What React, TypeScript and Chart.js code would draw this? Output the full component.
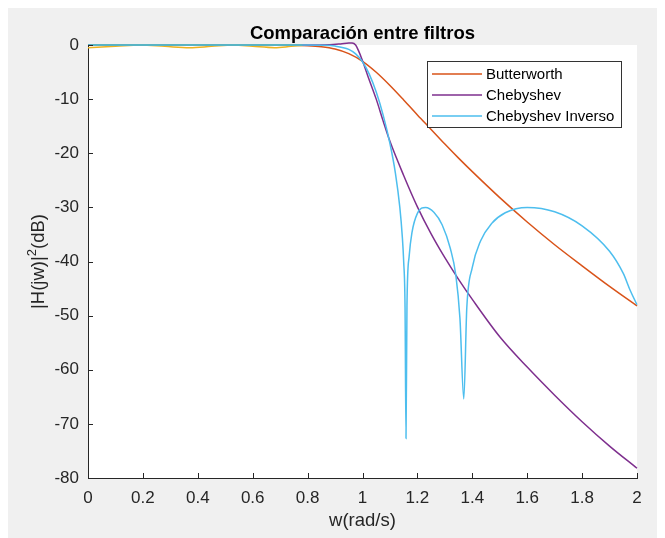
import React, { useEffect, useRef } from "react";
import { Chart, registerables } from "chart.js";

Chart.register(...registerables);

// ---------- data ----------
const chartTitle = "Comparación entre filtros";
const xAxisLabel = "w(rad/s)";
const legendLabels = ["Butterworth", "Chebyshev", "Chebyshev Inverso"];

const xTickLabels = ["0", "0.2", "0.4", "0.6", "0.8", "1", "1.2", "1.4", "1.6", "1.8", "2"];
const yTickLabels = ["-80", "-70", "-60", "-50", "-40", "-30", "-20", "-10", "0"];

const butterW = [0, 0.1, 0.2, 0.3, 0.4, 0.5, 0.6, 0.7, 0.8, 0.85, 0.9, 0.95, 1.0, 1.05, 1.1, 1.15, 1.2, 1.25, 1.3, 1.35, 1.4, 1.5, 1.6, 1.7, 1.8, 1.9, 2.0];
const butterDb = [0, 0, 0, 0, 0, 0, 0, -0.01, -0.12, -0.31, -0.74, -1.59, -3.01, -5.03, -7.47, -10.15, -12.93, -15.6, -18.3, -20.9, -23.4, -28.2, -32.7, -36.9, -40.8, -44.6, -48.2];

const chebW = [0, 0.2, 0.4, 0.6, 0.8, 0.88, 0.92, 0.95, 0.962, 0.975, 0.985, 1.0, 1.02, 1.05, 1.075, 1.1, 1.15, 1.2, 1.25, 1.3, 1.35, 1.4, 1.5, 1.6, 1.7, 1.8, 1.9, 2.0];
const chebDb = [0, 0, 0, 0, 0, 0.05, 0.2, 0.35, 0.37, 0, -1.0, -2.9, -5.8, -10.0, -14.0, -17.8, -24.1, -29.9, -34.9, -39.3, -43.3, -47.0, -53.9, -59.5, -64.7, -69.6, -74.1, -78.2];

const invW = [0, 0.2, 0.4, 0.6, 0.8, 0.85, 0.9, 0.95, 0.975, 1.0, 1.025, 1.05, 1.075, 1.1, 1.12, 1.136, 1.145, 1.15, 1.155, 1.1585, 1.162, 1.17, 1.18, 1.2, 1.23, 1.26, 1.29, 1.32, 1.34, 1.355, 1.369, 1.38, 1.4, 1.43, 1.47, 1.52, 1.6, 1.7, 1.8, 1.9, 1.95, 1.975, 2.0];
const invDb = [0, 0, 0, 0, -0.01, -0.05, -0.2, -0.82, -1.64, -3.09, -5.43, -8.7, -12.9, -18.2, -23.7, -30.0, -35.4, -40.0, -48.5, -72.7, -48.1, -39.0, -34.7, -31.1, -30.0, -30.9, -33.2, -37.6, -42.5, -50.5, -65.4, -48.5, -41.1, -36.2, -33.0, -31.0, -30.0, -30.8, -33.4, -38.1, -42.2, -45.3, -48.0];

const rippleW = [0, 0.1, 0.19, 0.28, 0.37, 0.45, 0.53, 0.6, 0.68, 0.74, 0.8];
const rippleDb = [-0.5, -0.25, 0, -0.25, -0.5, -0.25, 0, -0.25, -0.5, -0.25, 0];

const flatW = [0, 0.78];
const flatDb = [0, 0];

const startW = [0, 0.012];
const startDb = [0, 0];

// ---------- styling ----------
const FONT = "'Liberation Sans', Arial, Helvetica, sans-serif";
const AXIS_COLOR = "#262626";
const C_BLUE = "#0072BD";
const C_ORANGE = "#D95319";
const C_YELLOW = "#EDB120";
const C_PURPLE = "#7E2F8E";
const C_GREEN = "#77AC30";
const C_CYAN = "#4DBEEE";

const toPts = (w: number[], d: number[]) => w.map((x, i) => ({ x, y: d[i] }));

const decorPlugin = {
  id: "decor",
  beforeDraw(chart: any) {
    const { ctx, chartArea: a, width, height } = chart;
    ctx.save();
    ctx.fillStyle = "#f0f0f0";
    ctx.fillRect(0, 0, width, height);
    ctx.fillStyle = "#ffffff";
    ctx.fillRect(a.left, a.top, a.right - a.left, a.bottom - a.top);
    ctx.restore();
  },
  afterDatasetsDraw(chart: any) {
    const { ctx, chartArea: a } = chart;
    const xs = chart.scales.x;
    const ys = chart.scales.y;
    ctx.save();
    // inward tick marks
    ctx.strokeStyle = AXIS_COLOR;
    ctx.lineWidth = 1;
    ctx.beginPath();
    xs.ticks.forEach((t: any) => {
      const px = Math.round(xs.getPixelForValue(t.value)) + 0.5;
      ctx.moveTo(px, a.bottom);
      ctx.lineTo(px, a.bottom - 5);
    });
    ys.ticks.forEach((t: any) => {
      const py = Math.round(ys.getPixelForValue(t.value)) + 0.5;
      ctx.moveTo(a.left, py);
      ctx.lineTo(a.left + 5, py);
    });
    ctx.stroke();

    // legend box
    const lx = 419.5, ly = 53.5, lw = 194, lh = 66;
    ctx.fillStyle = "#ffffff";
    ctx.fillRect(lx, ly, lw, lh);
    ctx.strokeStyle = "#333333";
    ctx.lineWidth = 1;
    ctx.strokeRect(lx, ly, lw, lh);
    const items = [
      { label: legendLabels[0], color: C_ORANGE },
      { label: legendLabels[1], color: C_PURPLE },
      { label: legendLabels[2], color: C_CYAN },
    ];
    ctx.font = `15px ${FONT}`;
    ctx.textBaseline = "middle";
    ctx.textAlign = "left";
    items.forEach((it, i) => {
      const y = 66 + i * 21;
      ctx.strokeStyle = it.color;
      ctx.lineWidth = 1.5;
      ctx.beginPath();
      ctx.moveTo(424, y);
      ctx.lineTo(474, y);
      ctx.stroke();
      ctx.fillStyle = "#000000";
      ctx.fillText(it.label, 478, y + 1);
    });
    ctx.restore();
  },
  afterDraw(chart: any) {
    const { ctx, chartArea: a } = chart;
    const cx = (a.left + a.right) / 2;
    const cy = (a.top + a.bottom) / 2;
    ctx.save();
    ctx.fillStyle = "#000000";
    // title
    ctx.font = `bold 18.5px ${FONT}`;
    ctx.textAlign = "center";
    ctx.textBaseline = "alphabetic";
    ctx.fillText(chartTitle, cx, 31);
    // x label
    ctx.fillStyle = "#262626";
    ctx.font = `18.5px ${FONT}`;
    ctx.fillText(xAxisLabel, cx, 518);
    // y label with superscript
    ctx.translate(36, cy);
    ctx.rotate(-Math.PI / 2);
    ctx.textAlign = "left";
    const p1 = "|H(jw)|";
    const p2 = "2";
    const p3 = "(dB)";
    ctx.font = `18.5px ${FONT}`;
    const w1 = ctx.measureText(p1).width;
    const w3 = ctx.measureText(p3).width;
    ctx.font = `13px ${FONT}`;
    const w2 = ctx.measureText(p2).width;
    const total = w1 + w2 + w3;
    let x0 = -total / 2;
    ctx.font = `18.5px ${FONT}`;
    ctx.fillText(p1, x0, 0);
    x0 += w1;
    ctx.font = `13px ${FONT}`;
    ctx.fillText(p2, x0, -8);
    x0 += w2;
    ctx.font = `18.5px ${FONT}`;
    ctx.fillText(p3, x0, 0);
    ctx.restore();
  },
};

export default function App() {
  const ref = useRef<HTMLCanvasElement | null>(null);

  useEffect(() => {
    if (!ref.current) return;
    const line = (label: string, w: number[], d: number[], color: string, order: number) => ({
      label,
      data: toPts(w, d),
      borderColor: color,
      backgroundColor: color,
      borderWidth: 1.5,
      pointRadius: 0,
      fill: false,
      cubicInterpolationMode: "monotone" as const,
      clip: false as any,
      order,
    });
    const chart = new Chart(ref.current, {
      type: "line",
      data: {
        datasets: [
          line("blue", startW, startDb, C_BLUE, 6),
          line(legendLabels[0], butterW, butterDb, C_ORANGE, 5),
          line("yellow", rippleW, rippleDb, C_YELLOW, 4),
          line(legendLabels[1], chebW, chebDb, C_PURPLE, 3),
          line("green", flatW, flatDb, C_GREEN, 2),
          line(legendLabels[2], invW, invDb, C_CYAN, 1),
        ],
      },
      options: {
        animation: false,
        responsive: false,
        devicePixelRatio: 1,
        events: [],
        layout: { padding: { top: 37, right: 28, left: 0, bottom: 0 } },
        plugins: {
          legend: { display: false },
          title: { display: false },
          tooltip: { enabled: false },
        },
        scales: {
          x: {
            type: "linear",
            min: 0,
            max: 2,
            afterFit: (s: any) => {
              s.height = 60;
            },
            grid: { display: false, drawTicks: false },
            border: { display: true, color: AXIS_COLOR, width: 1 },
            ticks: {
              stepSize: 0.2,
              autoSkip: false,
              maxRotation: 0,
              padding: 10,
              color: AXIS_COLOR,
              font: { family: FONT, size: 17 },
              callback: (_v: any, i: number) => xTickLabels[i],
            },
          },
          y: {
            type: "linear",
            min: -80,
            max: 0,
            afterFit: (s: any) => {
              s.width = 80;
            },
            grid: { display: false, drawTicks: false },
            border: { display: true, color: AXIS_COLOR, width: 1 },
            ticks: {
              stepSize: 10,
              padding: 9,
              color: AXIS_COLOR,
              font: { family: FONT, size: 17 },
              callback: (_v: any, i: number) => yTickLabels[i],
            },
          },
        },
      },
      plugins: [decorPlugin],
    });
    return () => chart.destroy();
  }, []);

  return (
    <canvas
      ref={ref}
      width={657}
      height={530}
      style={{ display: "block", width: 657, height: 530 }}
    />
  );
}
